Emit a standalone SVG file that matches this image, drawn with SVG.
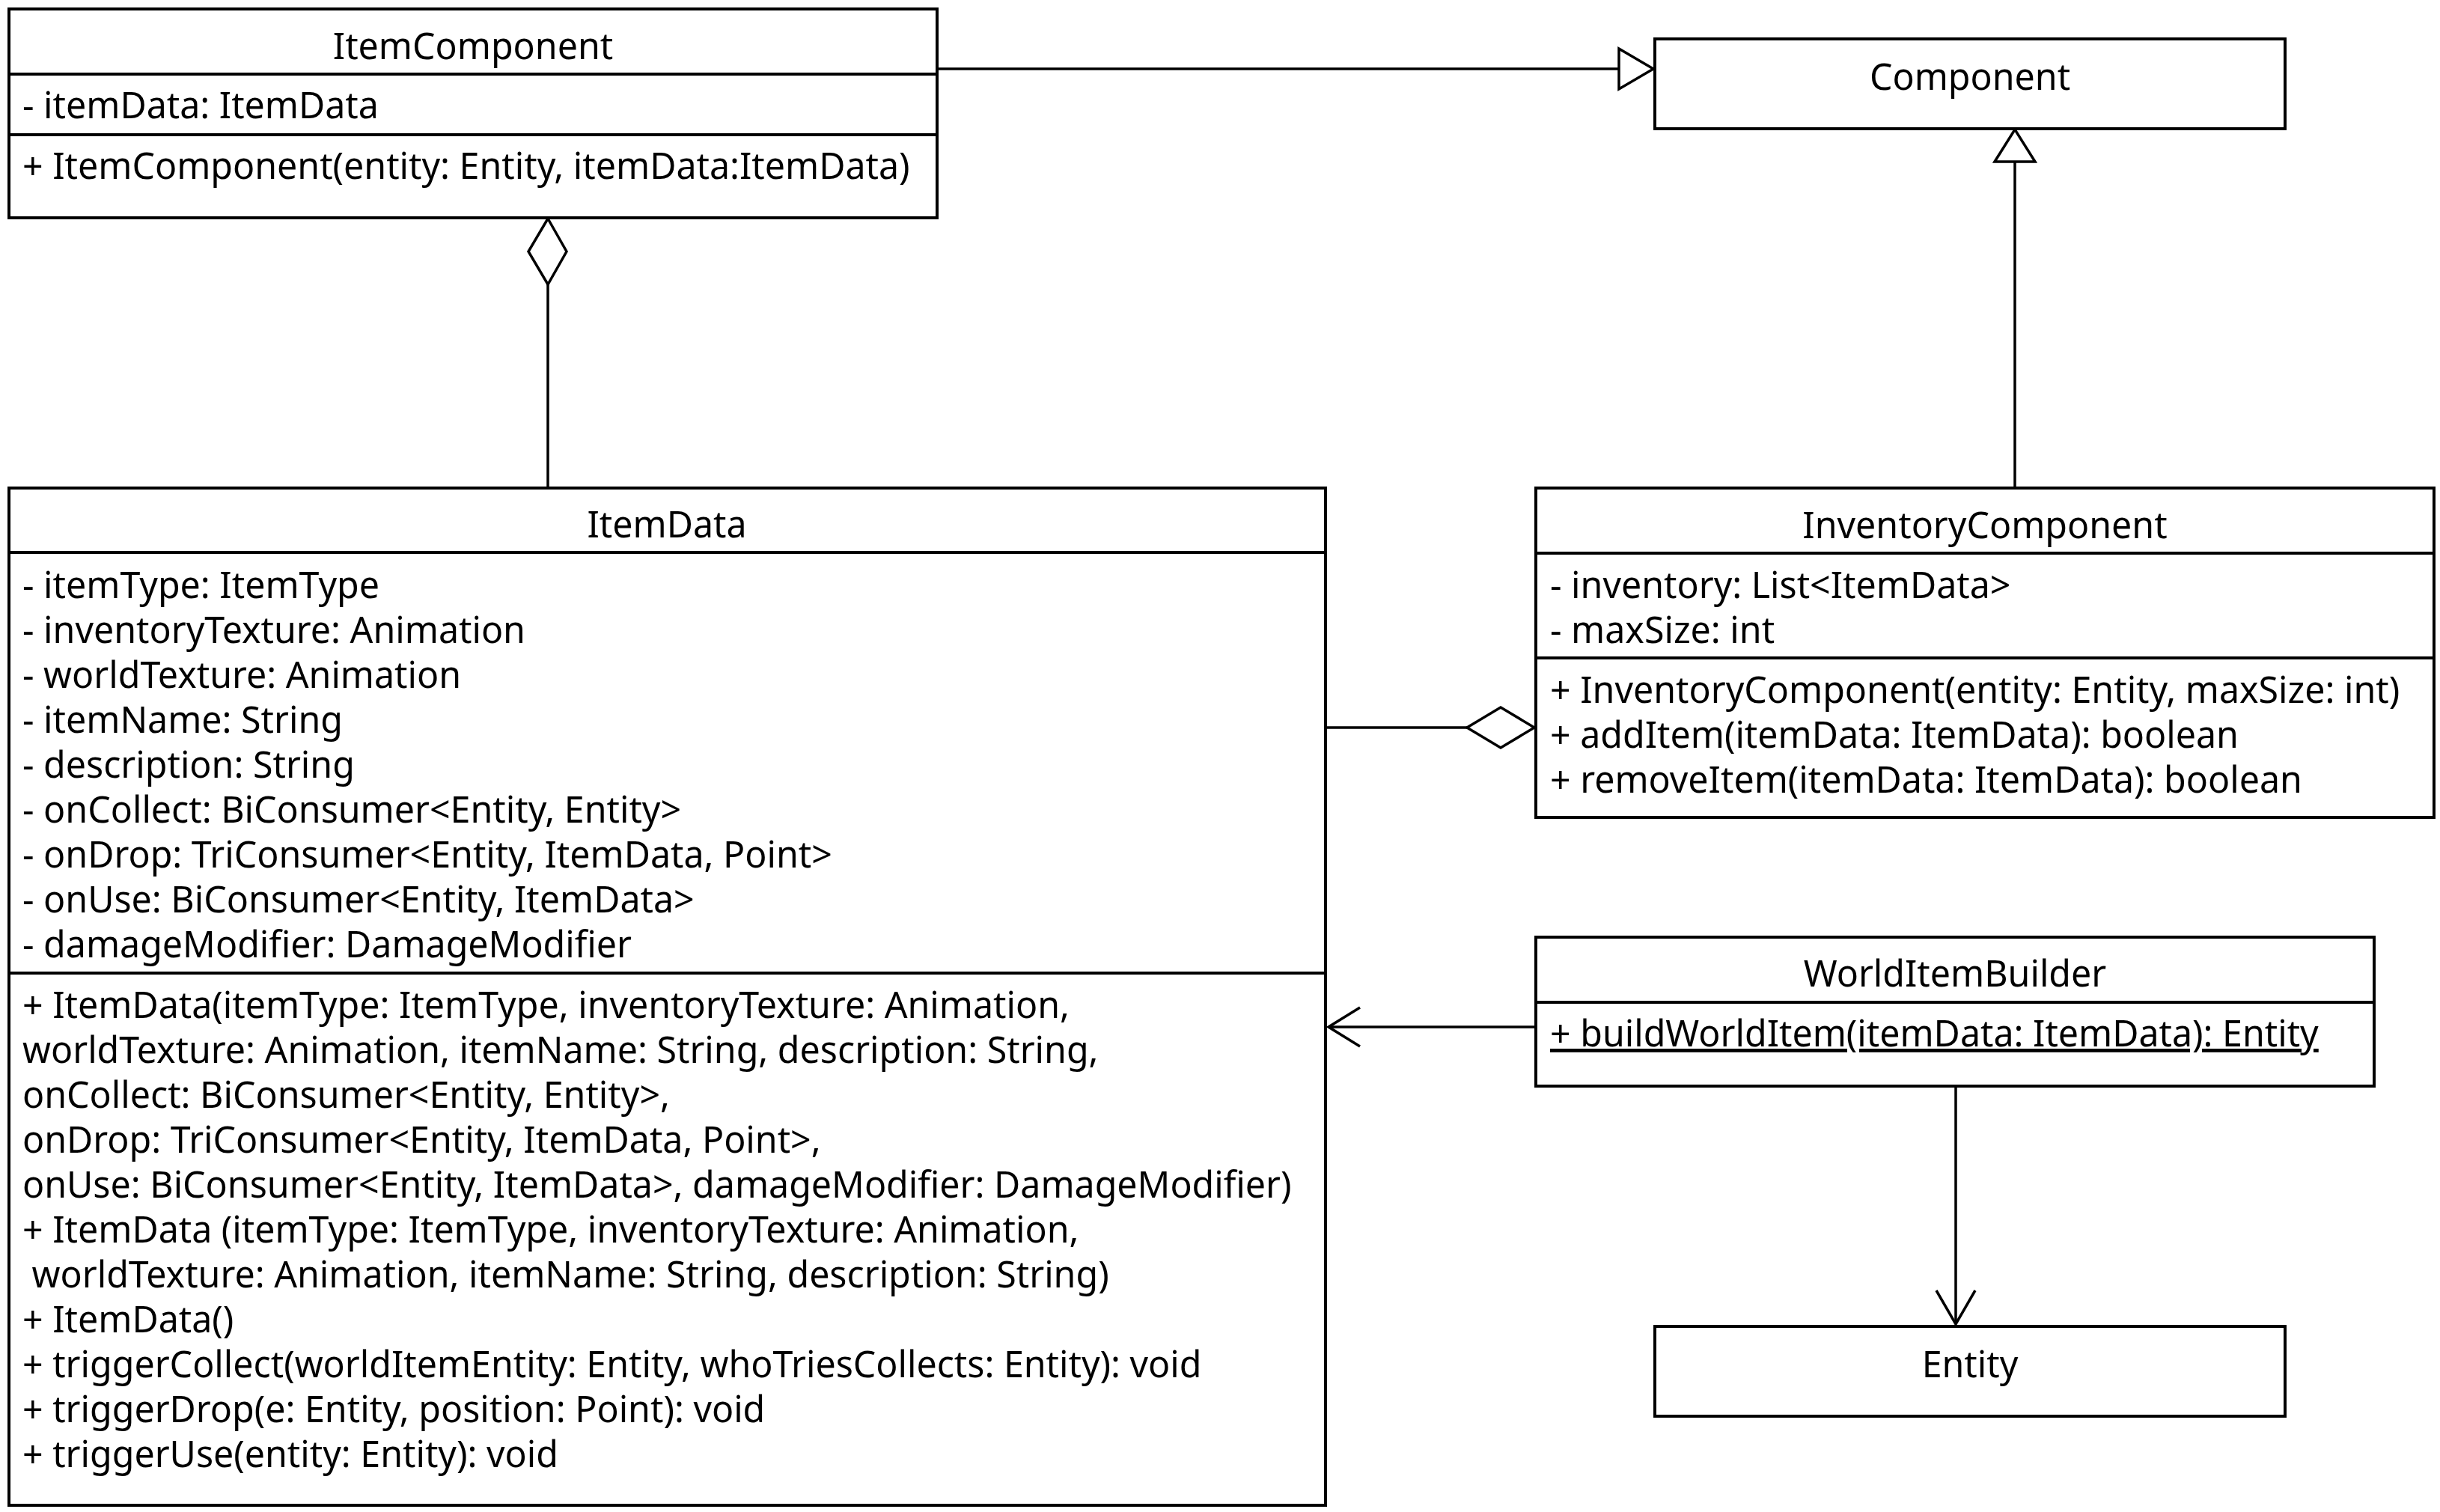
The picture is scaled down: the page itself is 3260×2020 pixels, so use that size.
<svg xmlns="http://www.w3.org/2000/svg" width="3260" height="2020" viewBox="0 0 3260 2020">
  <style>
    .box { fill: #ffffff; stroke: #000000; stroke-width: 4; }
    .sep { stroke: #000000; stroke-width: 4; fill: none; }
    .edge { stroke: #000000; stroke-width: 3.5; fill: none; }
    .head { stroke: #000000; stroke-width: 3.5; fill: #ffffff; stroke-linejoin: miter; }
    .open { stroke: #000000; stroke-width: 3.5; fill: none; }
    text { font-family: "Noto Sans", "Open Sans", sans-serif; font-size: 48.3px; fill: #000000; }
    .title { text-anchor: middle; }
  </style>
  <rect width="3260" height="2020" fill="#ffffff"/>

  <!-- connectors -->
  <g id="connectors">
    <!-- ItemComponent extends Component -->
    <line class="edge" x1="1252" y1="92" x2="2163" y2="92"/>
    <polygon class="head" points="2163,65 2209,92 2163,119"/>
    <!-- InventoryComponent extends Component -->
    <line class="edge" x1="2692" y1="652" x2="2692" y2="216"/>
    <polygon class="head" points="2665,216 2692,173 2719,216"/>
    <!-- ItemComponent aggregates ItemData -->
    <line class="edge" x1="732" y1="652" x2="732" y2="380"/>
    <polygon class="head" points="732,292 757,336 732,380 706,336"/>
    <!-- InventoryComponent aggregates ItemData -->
    <line class="edge" x1="1771" y1="972" x2="1960" y2="972"/>
    <polygon class="head" points="1960,972 2005,945 2050,972 2005,999"/>
    <!-- WorldItemBuilder uses ItemData -->
    <line class="edge" x1="2052" y1="1372" x2="1775" y2="1372"/>
    <polyline class="open" points="1817,1346 1775,1372 1817,1398"/>
    <!-- WorldItemBuilder creates Entity -->
    <line class="edge" x1="2613" y1="1451" x2="2613" y2="1769"/>
    <polyline class="open" points="2587,1724 2613,1769 2639,1724"/>
  </g>

  <g id="ItemComponent">
    <rect class="box" x="12" y="12" width="1240" height="279"/>
    <line class="sep" x1="12" y1="99" x2="1252" y2="99"/>
    <line class="sep" x1="12" y1="180" x2="1252" y2="180"/>
    <text class="title" x="632" y="79">ItemComponent</text>
    <text x="30" y="158">- itemData: ItemData</text>
    <text x="30" y="239">+ ItemComponent(entity: Entity, itemData:ItemData)</text>
  </g>

  <g id="Component">
    <rect class="box" x="2211" y="52" width="842" height="120"/>
    <text class="title" x="2632" y="120">Component</text>
  </g>

  <g id="ItemData">
    <rect class="box" x="12" y="652" width="1759" height="1359"/>
    <line class="sep" x1="12" y1="738" x2="1771" y2="738"/>
    <line class="sep" x1="12" y1="1300" x2="1771" y2="1300"/>
    <text class="title" x="891" y="718">ItemData</text>
    <text x="30" y="799">- itemType: ItemType</text>
    <text x="30" y="859">- inventoryTexture: Animation</text>
    <text x="30" y="919">- worldTexture: Animation</text>
    <text x="30" y="979">- itemName: String</text>
    <text x="30" y="1039">- description: String</text>
    <text x="30" y="1099">- onCollect: BiConsumer&lt;Entity, Entity&gt;</text>
    <text x="30" y="1159">- onDrop: TriConsumer&lt;Entity, ItemData, Point&gt;</text>
    <text x="30" y="1219">- onUse: BiConsumer&lt;Entity, ItemData&gt;</text>
    <text x="30" y="1279">- damageModifier: DamageModifier</text>
    <text x="30" y="1360">+ ItemData(itemType: ItemType, inventoryTexture: Animation,</text>
    <text x="30" y="1420">worldTexture: Animation, itemName: String, description: String,</text>
    <text x="30" y="1480">onCollect: BiConsumer&lt;Entity, Entity&gt;,</text>
    <text x="30" y="1540">onDrop: TriConsumer&lt;Entity, ItemData, Point&gt;,</text>
    <text x="30" y="1600">onUse: BiConsumer&lt;Entity, ItemData&gt;, damageModifier: DamageModifier)</text>
    <text x="30" y="1660">+ ItemData (itemType: ItemType, inventoryTexture: Animation,</text>
    <text x="30" y="1720" xml:space="preserve"> worldTexture: Animation, itemName: String, description: String)</text>
    <text x="30" y="1780">+ ItemData()</text>
    <text x="30" y="1840">+ triggerCollect(worldItemEntity: Entity, whoTriesCollects: Entity): void</text>
    <text x="30" y="1900">+ triggerDrop(e: Entity, position: Point): void</text>
    <text x="30" y="1960">+ triggerUse(entity: Entity): void</text>
  </g>

  <g id="InventoryComponent">
    <rect class="box" x="2052" y="652" width="1200" height="440"/>
    <line class="sep" x1="2052" y1="739" x2="3252" y2="739"/>
    <line class="sep" x1="2052" y1="879" x2="3252" y2="879"/>
    <text class="title" x="2652" y="719">InventoryComponent</text>
    <text x="2071" y="799">- inventory: List&lt;ItemData&gt;</text>
    <text x="2071" y="859">- maxSize: int</text>
    <text x="2071" y="939">+ InventoryComponent(entity: Entity, maxSize: int)</text>
    <text x="2071" y="999">+ addItem(itemData: ItemData): boolean</text>
    <text x="2071" y="1059">+ removeItem(itemData: ItemData): boolean</text>
  </g>

  <g id="WorldItemBuilder">
    <rect class="box" x="2052" y="1252" width="1120" height="199"/>
    <line class="sep" x1="2052" y1="1339" x2="3172" y2="1339"/>
    <text class="title" x="2612" y="1318">WorldItemBuilder</text>
    <text x="2071" y="1398" text-decoration="underline">+ buildWorldItem(itemData: ItemData): Entity</text>
  </g>

  <g id="Entity">
    <rect class="box" x="2211" y="1772" width="842" height="120"/>
    <text class="title" x="2632" y="1840">Entity</text>
  </g>
</svg>
